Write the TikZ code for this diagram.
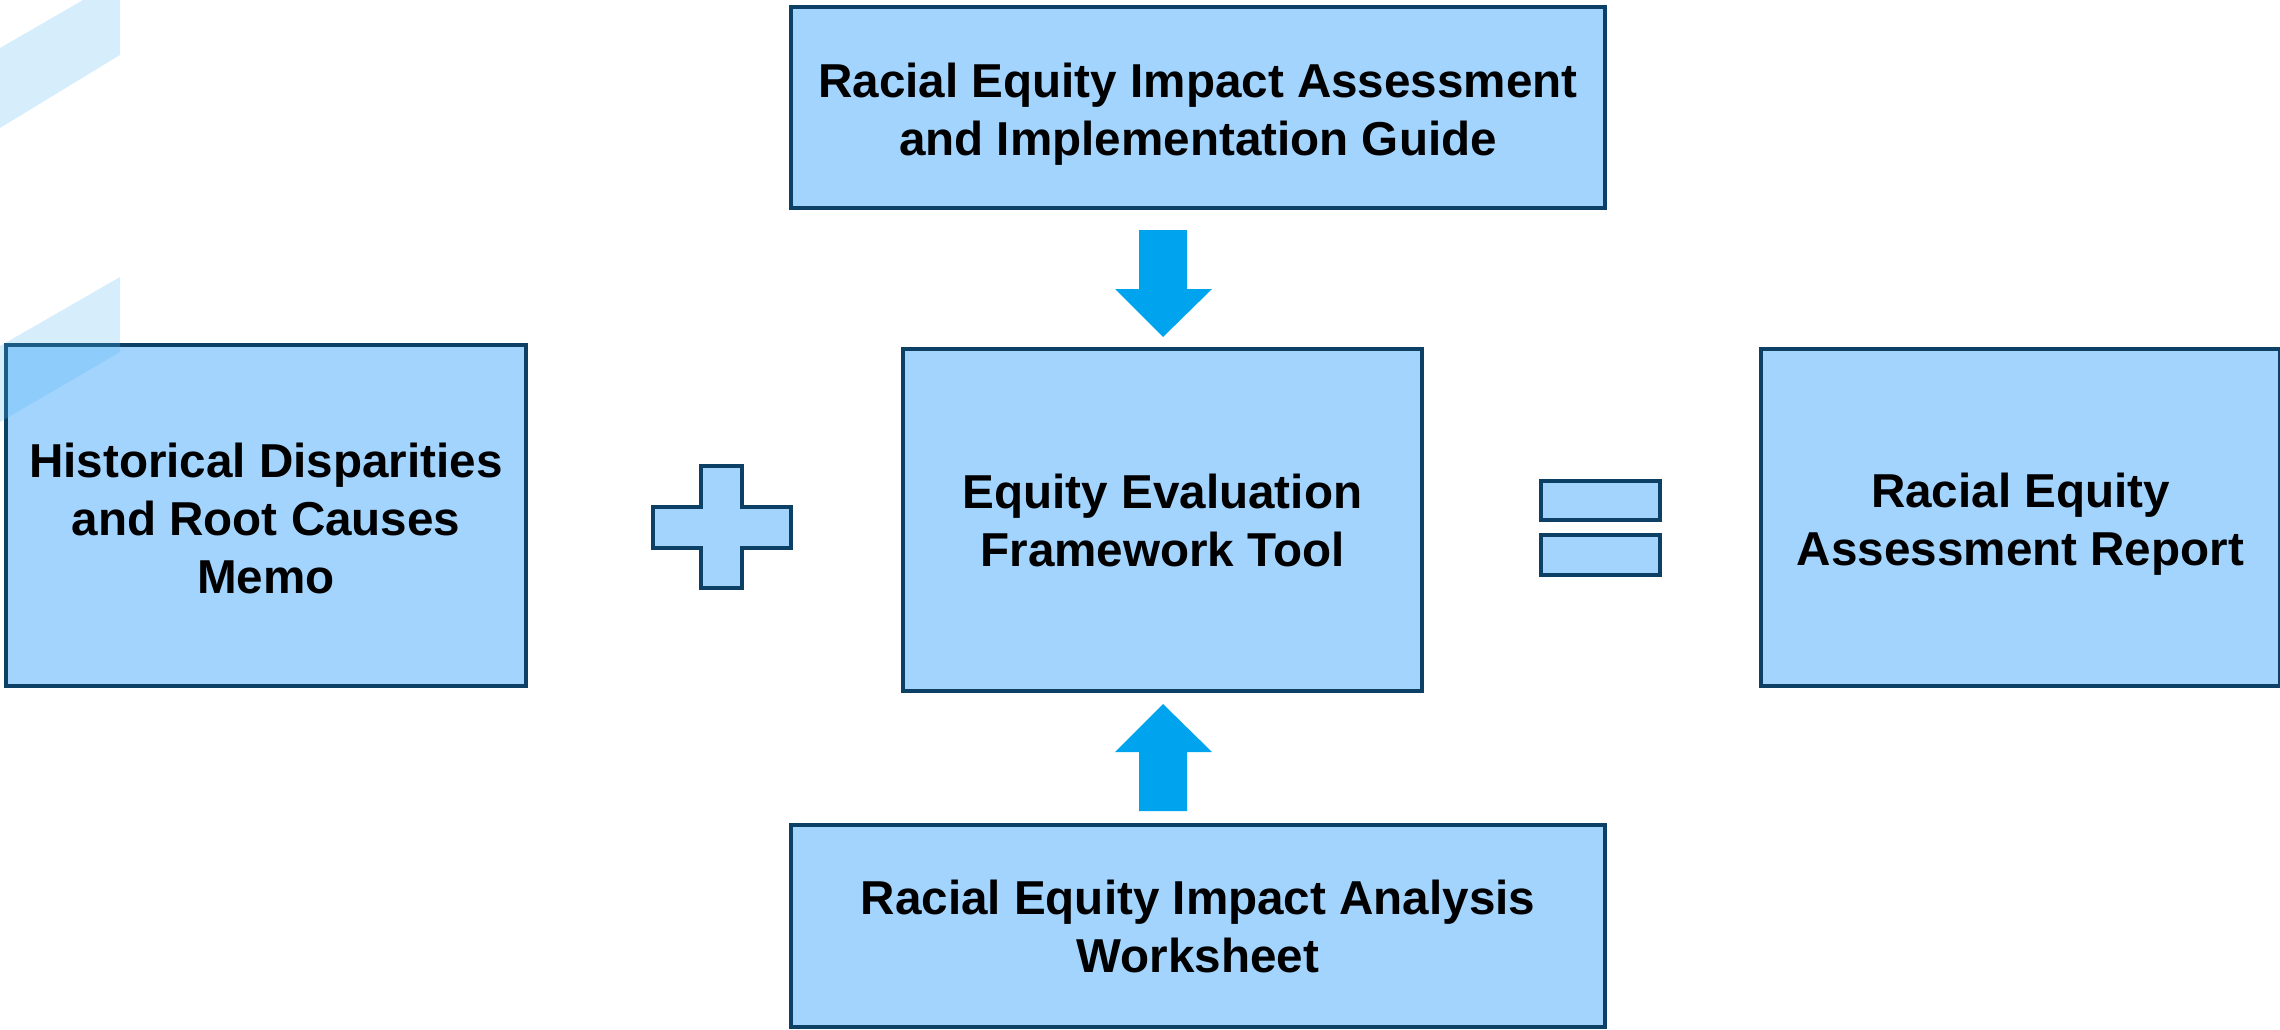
\documentclass[tikz,border=0pt]{standalone}
\usepackage{fontspec}
\setmainfont{Liberation Sans}
\definecolor{boxfill}{RGB}{162,212,254}
\definecolor{boxline}{RGB}{12,64,100}
\definecolor{arrowblue}{RGB}{0,163,238}
\definecolor{stripe}{RGB}{78,182,243}
\begin{document}
\begin{tikzpicture}[x=1pt,y=-1pt,
  card/.style={draw=boxline,fill=boxfill,line width=3.5pt,inner sep=0pt},
  cardtext/.style={align=center,font=\fontsize{47.6}{58}\selectfont\bfseries,inner sep=0pt},
  sym/.style={draw=boxline,fill=boxfill,line width=3.5pt},
  blockarrow/.style={fill=arrowblue}]
\useasboundingbox (0,0) rectangle (2280,1030);
% boxes
\node[card,minimum width=814pt,minimum height=201pt] (guide) at (1198,107.5) {};
\node[cardtext] (guidetext) at ([yshift=-7pt]guide.center)
  {Racial Equity Impact Assessment\\and Implementation Guide};
\node[card,minimum width=519pt,minimum height=342pt] (tool) at (1162.5,520) {};
\node[cardtext] (tooltext) at (tool.center) {Equity Evaluation\\Framework Tool};
\node[card,minimum width=814pt,minimum height=202pt] (worksheet) at (1198,926) {};
\node[cardtext] (worksheettext) at (worksheet.center)
  {Racial Equity Impact Analysis\\Worksheet};
\node[card,minimum width=520pt,minimum height=341pt] (memo) at (266,515.5) {};
\node[cardtext] (memotext) at ([yshift=-3pt]memo.center)
  {Historical Disparities\\and Root Causes\\Memo};
\node[card,minimum width=519pt,minimum height=337pt] (report) at (2020.5,517.5) {};
\node[cardtext] (reporttext) at ([yshift=-7pt]report.center)
  {Racial Equity\\Assessment Report};
% plus sign
\draw[sym] (701,466) -- (742,466) -- (742,507) -- (791,507) -- (791,548)
  -- (742,548) -- (742,588) -- (701,588) -- (701,548) -- (653,548)
  -- (653,507) -- (701,507) -- cycle;
% equals sign
\draw[sym] (1541,481) rectangle (1660,520);
\draw[sym] (1541,535) rectangle (1660,575);
% block arrows
\fill[blockarrow] (1139,230) -- (1187,230) -- (1187,289) -- (1212,289)
  -- (1163,337) -- (1115,289) -- (1139,289) -- cycle;
\fill[blockarrow] (1139,811) -- (1187,811) -- (1187,752) -- (1212,752)
  -- (1163,704) -- (1115,752) -- (1139,752) -- cycle;
% decorative stripes
\fill[stripe,opacity=0.23] (0,48) -- (83,0) -- (120,0) -- (120,55) -- (0,128) -- cycle;
\fill[stripe,opacity=0.23] (0,346) -- (120,277) -- (120,352) -- (0,422) -- cycle;
\end{tikzpicture}
\end{document}
